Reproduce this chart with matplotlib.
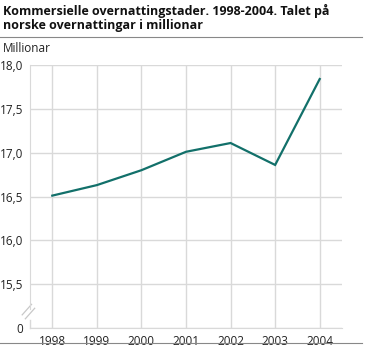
import matplotlib
matplotlib.use('Agg')
import matplotlib.pyplot as plt
from matplotlib.lines import Line2D

years = [1998, 1999, 2000, 2001, 2002, 2003, 2004]
values = [16.51, 16.63, 16.80, 17.01, 17.11, 16.86, 17.84]
ytick_vals = [15.0, 15.5, 16.0, 16.5, 17.0, 17.5, 18.0]
ytick_labels = ['0', '15,5', '16,0', '16,5', '17,0', '17,5', '18,0']

plt.rcParams['font.family'] = ['Open Sans', 'DejaVu Sans']

fig = plt.figure(figsize=(3.65, 3.53), dpi=100)
ax = fig.add_axes([30/365, 25/353, 312/365, 263/353])

ax.plot(years, values, color='#12706a', lw=1.6, solid_joinstyle='miter', zorder=3)

ax.set_xlim(1997.5, 2004.5)
ax.set_ylim(15.0, 18.0)
ax.set_xticks(years)
ax.set_xticklabels([str(y) for y in years])
ax.set_yticks(ytick_vals)
ax.set_yticklabels(ytick_labels)

grid_col = '#d9d9d9'
ax.grid(True, color=grid_col, lw=1.0)
ax.set_axisbelow(True)
for s in ['top', 'right']:
    ax.spines[s].set_visible(False)
ax.spines['left'].set_color(grid_col)
ax.spines['bottom'].set_color(grid_col)
ax.spines['left'].set_bounds(15.22, 18.0)
ax.tick_params(length=0, labelsize=8.5, colors='#222222', pad=5)

# brudd i y-aksen
ax.plot([-0.025, 0.005], [0.05, 0.09], transform=ax.transAxes, color='#c8c8c8', lw=0.9, clip_on=False)
ax.plot([-0.015, 0.015], [0.035, 0.075], transform=ax.transAxes, color='#c8c8c8', lw=0.9, clip_on=False)
ax.plot([0, 0], [0, 0.03], transform=ax.transAxes, color=grid_col, lw=1.0, clip_on=False)

fig.text(3/365, 1 - 4/353, 'Kommersielle overnattingstader. 1998-2004. Talet på\nnorske overnattingar i millionar',
         fontsize=9, fontweight='bold', va='top', ha='left', linespacing=1.15, color='#111111')
fig.text(3/365, 1 - 49/353, 'Millionar', fontsize=8.5, va='center', ha='left', color='#222222')

fig.add_artist(Line2D([0, 362/365], [1 - 37/353, 1 - 37/353], color='#888888', lw=0.8))
fig.add_artist(Line2D([0, 362/365], [1 - 343/353, 1 - 343/353], color='#888888', lw=0.8))

fig.savefig('out.png', dpi=100)
